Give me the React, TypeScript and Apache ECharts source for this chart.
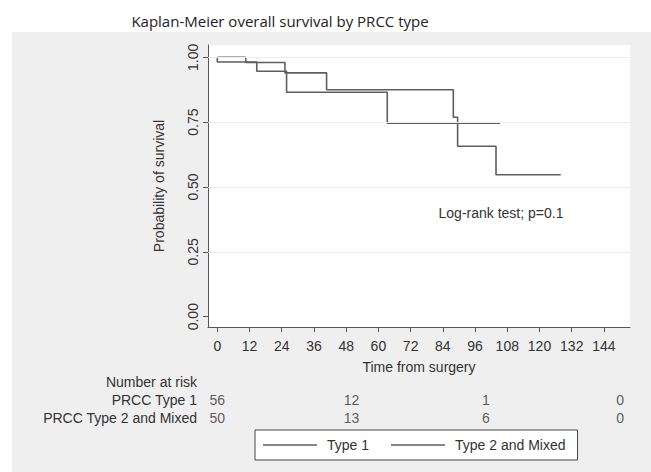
import React, { useEffect, useRef } from "react";
import * as echarts from "echarts";

// Kaplan-Meier step curves: event times (months) and survival estimates
const type1Times = [0, 0, 14.7, 25.8, 63.3, 105.3];
const type1Surv = [1, 0.982, 0.946, 0.865, 0.746, 0.746];
const type2Times = [0, 10.6, 25.2, 40.7, 87.9, 89.5, 103.8, 127.9];
const type2Surv = [1, 0.98, 0.94, 0.875, 0.769, 0.657, 0.547, 0.547];

// Axis ticks
const timeTicks = [0, 12, 24, 36, 48, 60, 72, 84, 96, 108, 120, 132, 144];
const survTicks = [0, 0.25, 0.5, 0.75, 1];

// Number-at-risk table
const riskTimes = [0, 50, 100, 150];
const riskType1 = [56, 12, 1, 0];
const riskType2 = [50, 13, 6, 0];
const riskRows = ["PRCC Type 1", "PRCC Type 2 and Mixed"];

const seriesNames = ["Type 1", "Type 2 and Mixed"];

const X_MIN = -3.46;
const X_MAX = 153.7;
const Y_MIN = -0.0397;
const Y_MAX = 1.0474;

const FONT = "Liberation Sans, Arial, sans-serif";
const CURVE = "#5e5e5e";

export default function App() {
  const ref = useRef<HTMLDivElement>(null);

  useEffect(() => {
    if (!ref.current) return;
    const chart = echarts.init(ref.current, undefined, { renderer: "svg" });

    const curve = (name: string, t: number[], s: number[]) => ({
      name,
      type: "line",
      step: "end",
      symbol: "none",
      xAxisIndex: 0,
      yAxisIndex: 0,
      z: 3,
      lineStyle: { color: CURVE, width: 1.6 },
      itemStyle: { color: CURVE },
      data: t.map((v, i) => [v, s[i]]),
    });

    const risk = (name: string, row: number, counts: number[]) => ({
      name,
      type: "scatter",
      xAxisIndex: 1,
      yAxisIndex: 1,
      symbolSize: 1,
      itemStyle: { color: "transparent" },
      label: {
        show: true,
        position: "inside",
        formatter: (p: any) => String(p.value[2]),
        color: "#333",
        fontSize: 14,
        fontFamily: FONT,
      },
      data: riskTimes.map((t, i) => [t, row, counts[i]]),
    });

    chart.setOption({
      animation: false,
      backgroundColor: "#ffffff",
      textStyle: { fontFamily: FONT },
      graphic: [
        {
          type: "rect",
          z: -10,
          shape: { x: 12, y: 32, width: 639, height: 440 },
          style: { fill: "#efefef" },
          silent: true,
        },
        {
          type: "text",
          x: 280,
          y: 21,
          style: {
            text: "Kaplan-Meier overall survival by PRCC type",
            fontFamily: "Open Sans, Noto Sans, sans-serif",
            fontSize: 15,
            fill: "#222",
            align: "center",
            verticalAlign: "middle",
          },
        },
        {
          type: "text",
          x: 501,
          y: 213,
          z: 10,
          style: {
            text: "Log-rank test; p=0.1",
            fontFamily: FONT,
            fontSize: 14,
            fill: "#333",
            align: "center",
            verticalAlign: "middle",
          },
        },
        {
          type: "text",
          x: 197,
          y: 382,
          style: {
            text: "Number at risk",
            fontFamily: FONT,
            fontSize: 14,
            fill: "#333",
            align: "right",
            verticalAlign: "middle",
          },
        },
      ],
      legend: {
        data: seriesNames.map((n) => ({ name: n, icon: "rect" })),
        left: 255,
        top: 430,
        orient: "horizontal",
        itemWidth: 54,
        itemHeight: 1.5,
        itemGap: 22,
        padding: [7, 12, 7, 8],
        backgroundColor: "#ffffff",
        borderColor: "#444",
        borderWidth: 1,
        borderRadius: 0,
        itemStyle: { color: CURVE, borderWidth: 0 },
        textStyle: {
          fontSize: 14,
          lineHeight: 16,
          color: "#333",
          fontFamily: FONT,
          padding: [0, 0, 0, 5],
        },
      },
      grid: [
        {
          left: 208,
          top: 45,
          right: 21,
          bottom: 145,
          show: true,
          backgroundColor: "#ffffff",
          borderWidth: 0,
        },
        { left: 208, top: 391, right: 21, height: 36 },
      ],
      xAxis: [
        {
          type: "value",
          gridIndex: 0,
          min: X_MIN,
          max: X_MAX,
          name: "Time from surgery",
          nameLocation: "middle",
          nameGap: 33,
          nameTextStyle: { fontSize: 14, color: "#333", fontFamily: FONT },
          axisLine: { show: true, onZero: false, lineStyle: { color: "#555", width: 1 } },
          axisTick: {
            show: true,
            length: 5,
            customValues: timeTicks,
            lineStyle: { color: "#555" },
          },
          axisLabel: {
            customValues: timeTicks,
            fontSize: 14,
            color: "#333",
            fontFamily: FONT,
            margin: 12,
          },
          splitLine: { show: false },
        },
        {
          type: "value",
          gridIndex: 1,
          min: X_MIN,
          max: X_MAX,
          show: false,
        },
      ],
      yAxis: [
        {
          type: "value",
          gridIndex: 0,
          min: Y_MIN,
          max: Y_MAX,
          name: "Probability of survival",
          nameLocation: "middle",
          nameGap: 42,
          nameTextStyle: { fontSize: 14, color: "#333", fontFamily: FONT },
          axisLine: { show: true, onZero: false, lineStyle: { color: "#555", width: 1 } },
          axisTick: {
            show: true,
            length: 5,
            customValues: survTicks,
            lineStyle: { color: "#555" },
          },
          axisLabel: {
            customValues: survTicks,
            rotate: 90,
            fontSize: 14,
            color: "#333",
            fontFamily: FONT,
            margin: 8,
            formatter: (v: number) => v.toFixed(2),
          },
          splitLine: { show: false },
        },
        {
          type: "category",
          gridIndex: 1,
          inverse: true,
          data: riskRows,
          axisLine: { show: false },
          axisTick: { show: false },
          axisLabel: {
            interval: 0,
            fontSize: 14,
            color: "#333",
            fontFamily: FONT,
            margin: 11,
          },
        },
      ],
      series: [
        {
          name: "grid",
          type: "line",
          xAxisIndex: 0,
          yAxisIndex: 0,
          data: [],
          z: 1,
          silent: true,
          markLine: {
            silent: true,
            symbol: "none",
            label: { show: false },
            lineStyle: { color: "#ececec", width: 1, type: "solid" },
            data: survTicks.filter((v) => v > 0).map((v) => ({ yAxis: v })),
          },
        },
        curve(seriesNames[0], type1Times, type1Surv),
        curve(seriesNames[1], type2Times, type2Surv),
        risk("risk1", 0, riskType1),
        risk("risk2", 1, riskType2),
      ],
    });

    return () => chart.dispose();
  }, []);

  return (
    <div
      ref={ref}
      style={{ position: "absolute", left: 0, top: 0, width: 651, height: 472 }}
    />
  );
}
